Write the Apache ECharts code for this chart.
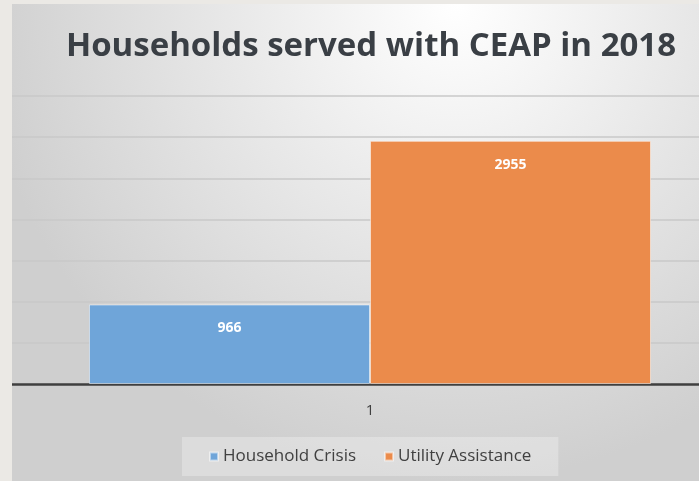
<!DOCTYPE html>
<html>
<head>
<meta charset="utf-8">
<script src="https://cdn.jsdelivr.net/npm/echarts@6/dist/echarts.min.js"></script>
<style>
  html, body { margin: 0; padding: 0; background: #ebe9e5; overflow: hidden; width: 699px; height: 481px; }
  /* plot area runs past the right edge, like the cropped original */
  #chart { position: absolute; left: 12px; top: 4px; width: 716px; height: 477px; }
</style>
</head>
<body>
<div id="chart"></div>
<script>
const categories = ["1"];
const seriesNames = ["Household Crisis", "Utility Assistance"];
const householdCrisis = [966];
const utilityAssistance = [2955];
const seriesColors = ["#6fa5d9", "#eb8b4b"];

const chart = echarts.init(document.getElementById("chart"));

const barLabel = {
  show: true,
  position: "insideTop",
  distance: 17,
  color: "#ffffff",
  fontFamily: "Open Sans",
  fontWeight: "bold",
  fontSize: 14,
};

chart.setOption({
  backgroundColor: {
    type: "radial",
    x: 0.62,
    y: 0.0,
    r: 1.0,
    colorStops: [
      { offset: 0, color: "#ffffff" },
      { offset: 1, color: "#cfcfcf" },
    ],
  },
  animation: false,
  title: {
    text: "Households served with CEAP in 2018",
    left: 354,
    textAlign: "center",
    top: 21,
    textStyle: {
      fontFamily: "Open Sans",
      fontWeight: "bold",
      fontSize: 33,
      color: "#3a3f45",
    },
  },
  legend: {
    left: 170,
    top: 433,
    padding: [11, 27, 11, 27],
    backgroundColor: "rgba(255,255,255,0.28)",
    itemWidth: 8,
    itemHeight: 8,
    itemGap: 28,
    icon: "rect",
    textStyle: {
      fontFamily: "Open Sans",
      fontSize: 17,
      color: "#404040",
    },
    data: seriesNames,
  },
  grid: {
    left: 0,
    right: 0,
    top: 92,
    bottom: 97,
  },
  xAxis: {
    type: "category",
    data: categories,
    axisLine: { lineStyle: { color: "#3f3f3f", width: 2.5 } },
    axisTick: { show: false },
    axisLabel: {
      margin: 19,
      fontFamily: "Open Sans",
      fontSize: 15,
      color: "#404040",
    },
  },
  yAxis: {
    type: "value",
    min: 0,
    max: 3500,
    interval: 500,
    axisLabel: { show: false },
    axisLine: { show: false },
    axisTick: { show: false },
    splitLine: { lineStyle: { color: "#c9c9c9", width: 1.5 } },
  },
  series: [
    {
      name: seriesNames[0],
      type: "bar",
      data: householdCrisis,
      barGap: "0%",
      barCategoryGap: "21.5%",
      itemStyle: { color: seriesColors[0], borderColor: "rgba(255,255,255,0.5)", borderWidth: 1 },
      label: barLabel,
    },
    {
      name: seriesNames[1],
      type: "bar",
      data: utilityAssistance,
      barGap: "0%",
      barCategoryGap: "21.5%",
      itemStyle: { color: seriesColors[1], borderColor: "rgba(255,255,255,0.5)", borderWidth: 1 },
      label: barLabel,
    },
  ],
});
</script>
</body>
</html>
